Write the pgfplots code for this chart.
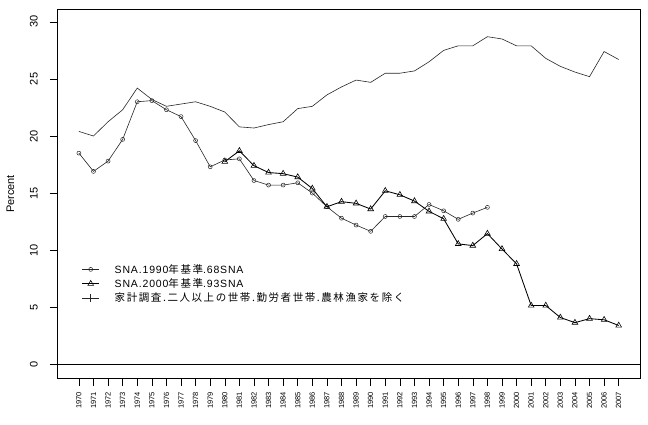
\documentclass[border=0pt]{standalone}
\usepackage{fontspec}
\setmainfont{Liberation Sans}
\newfontfamily\jp[LetterSpace=15]{Noto Sans CJK JP}
\newfontfamily\lat[LetterSpace=8]{Liberation Sans}
\usepackage{pgfplots}
\pgfplotsset{compat=1.18}
\newcommand{\LT}[1]{{\lat #1}}
\newcommand{\JP}[1]{{\jp #1}}
\begin{document}
\begin{tikzpicture}[x=1pt,y=1pt]
\path[use as bounding box] (0,0) rectangle (648,425);
\begin{axis}[
  at={(57.3pt,46.3pt)}, anchor=south west,
  scale only axis, width=583pt, height=369.4pt,
  xmin=1968.52, xmax=2008.48, ymin=-1.26, ymax=31.1,
  axis line style={black, line width=0.6pt},
  tick align=outside, major tick length=7pt,
  tick style={black, line width=0.5pt},
  xtick={1970,...,2007}, ytick={0,5,...,30},
  xtick pos=bottom, ytick pos=left,
  /pgf/number format/assume math mode=true,
  xticklabel={\pgfmathprintnumber[1000 sep={}]{\tick}},
  xticklabel style={yshift=-3pt, rotate=90, anchor=east, font=\fontsize{7.5}{8}\selectfont, color=black},
  yticklabel style={xshift=-9pt, rotate=90, anchor=south, font=\fontsize{11}{12}\selectfont},
  ylabel={Percent}, ylabel style={font=\fontsize{11}{12}\selectfont}, ylabel shift=9pt,
  legend cell align=left,
  legend style={draw=none, fill=none, at={(axis cs:1969.7,9.05)}, anchor=north west,
    font=\fontsize{10.5}{12}\selectfont, row sep=0pt, inner sep=1pt},
  legend image code/.code={\path[draw=none,fill=none] (0pt,0pt) -- (37pt,0pt); \draw[mark repeat=2,mark phase=2] plot coordinates {(6.7pt,0pt) (15pt,0pt) (23.3pt,0pt)};},
]
\addplot[black, line width=0.5pt, forget plot] coordinates {(1968.52,0) (2008.48,0)};
\addplot[black!85, line width=0.6pt, mark=o, mark size=2pt, mark options={solid, line width=0.5pt}] coordinates {
(1970,18.5)(1971,16.9)(1972,17.8)(1973,19.7)(1974,23.0)(1975,23.1)(1976,22.3)(1977,21.7)(1978,19.6)(1979,17.3)
(1980,17.9)(1981,18.0)(1982,16.1)(1983,15.7)(1984,15.7)(1985,15.9)(1986,15.0)(1987,13.8)(1988,12.8)(1989,12.2)
(1990,11.65)(1991,12.95)(1992,12.95)(1993,12.95)(1994,14.0)(1995,13.45)(1996,12.7)(1997,13.25)(1998,13.75)};
\addlegendentry{\LT{SNA.1990}\JP{年基準}\LT{.68SNA}}
\addplot[black, line width=0.85pt, mark=triangle, mark size=3.3pt, mark options={solid, line width=0.6pt}] coordinates {
(1980,17.75)(1981,18.7)(1982,17.4)(1983,16.8)(1984,16.7)(1985,16.4)(1986,15.4)(1987,13.8)(1988,14.25)(1989,14.1)
(1990,13.6)(1991,15.2)(1992,14.85)(1993,14.3)(1994,13.4)(1995,12.75)(1996,10.55)(1997,10.4)(1998,11.45)(1999,10.1)
(2000,8.8)(2001,5.15)(2002,5.15)(2003,4.1)(2004,3.65)(2005,4.0)(2006,3.9)(2007,3.4)};
\addlegendentry{\LT{SNA.2000}\JP{年基準}\LT{.93SNA}}
\addlegendimage{black!85, line width=0.6pt, mark=+, mark size=4pt}
\addlegendentry{\JP{家計調査.二人以上の世帯.勤労者世帯.農林漁家を除く}}
\addplot[black!85, line width=0.6pt, forget plot] coordinates {
(1970,20.4)(1971,20.0)(1972,21.25)(1973,22.3)(1974,24.2)(1975,23.2)(1976,22.6)(1977,22.8)(1978,23.0)(1979,22.6)
(1980,22.1)(1981,20.8)(1982,20.7)(1983,21.0)(1984,21.25)(1985,22.4)(1986,22.6)(1987,23.6)(1988,24.3)(1989,24.9)
(1990,24.7)(1991,25.5)(1992,25.5)(1993,25.7)(1994,26.5)(1995,27.5)(1996,27.9)(1997,27.9)(1998,28.7)(1999,28.5)
(2000,27.9)(2001,27.9)(2002,26.8)(2003,26.1)(2004,25.6)(2005,25.2)(2006,27.4)(2007,26.7)};
\end{axis}
\end{tikzpicture}
\end{document}
